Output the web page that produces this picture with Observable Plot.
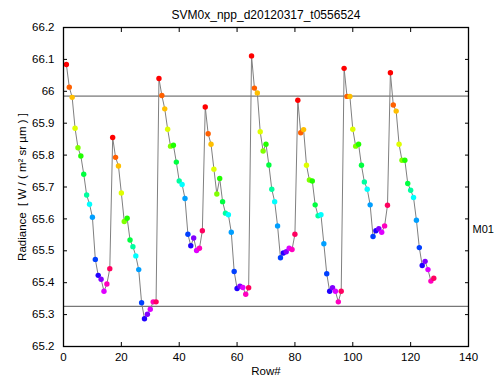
<!DOCTYPE html>
<html>
<head>
<meta charset="utf-8">
<script src="https://cdn.jsdelivr.net/npm/d3@7"></script>
<script src="https://cdn.jsdelivr.net/npm/@observablehq/plot@0.6"></script>
<style>
  html, body { margin: 0; padding: 0; background: #fff; }
  svg { display: block; }
</style>
</head>
<body>
<div id="chart"></div>
<script>
// ---- data ----
const chartTitle = "SVM0x_npp_d20120317_t0556524";
const bandLabel = "M01";
const xLabel = "Row#";
const yLabel = "Radiance  [ W / ( m\u00B2 sr \u00B5m ) ]";

// radiance per row (rows 1..128, 8 scans of 16 detectors)
const radiance = [
  66.084, 66.013, 65.981, 65.884, 65.823, 65.797, 65.740, 65.675, 65.646, 65.605, 65.473, 65.423, 65.411, 65.373, 65.396, 65.444,
  65.855, 65.793, 65.766, 65.681, 65.592, 65.602, 65.534, 65.513, 65.484, 65.441, 65.337, 65.287, 65.301, 65.317, 65.340, 65.340,
  66.040, 65.987, 65.945, 65.881, 65.828, 65.831, 65.778, 65.719, 65.708, 65.664, 65.552, 65.516, 65.540, 65.501, 65.508, 65.563,
  65.951, 65.867, 65.834, 65.756, 65.678, 65.727, 65.654, 65.618, 65.613, 65.558, 65.435, 65.382, 65.389, 65.385, 65.364, 65.384,
  66.111, 66.010, 65.995, 65.873, 65.813, 65.834, 65.769, 65.693, 65.654, 65.578, 65.478, 65.493, 65.497, 65.508, 65.504, 65.552,
  65.972, 65.870, 65.880, 65.768, 65.722, 65.719, 65.644, 65.610, 65.613, 65.522, 65.428, 65.373, 65.384, 65.373, 65.340, 65.373,
  66.072, 65.984, 65.984, 65.881, 65.828, 65.834, 65.768, 65.716, 65.693, 65.644, 65.545, 65.563, 65.569, 65.558, 65.578, 65.643,
  66.058, 65.957, 65.938, 65.834, 65.784, 65.784, 65.711, 65.690, 65.667, 65.596, 65.510, 65.454, 65.467, 65.441, 65.405, 65.414
];

// detector colours (hsv cycle over 16 detectors)
const detectorColors = [
  "#FF0000", "#FF6000", "#FFBF00", "#DFFF00", "#80FF00", "#20FF00", "#00FF40", "#00FF9F",
  "#00FFFF", "#009FFF", "#0040FF", "#2000FF", "#8000FF", "#DF00FF", "#FF00BF", "#FF0060"
];

// horizontal reference lines
const refLines = [65.985, 65.326];

// ticks
const xTicks = [0, 20, 40, 60, 80, 100, 120, 140];
const yTicks = [65.2, 65.3, 65.4, 65.5, 65.6, 65.7, 65.8, 65.9, 66.0, 66.1, 66.2];
const bandLabelY = 65.567;

// ---- build table ----
const data = radiance.map((v, i) => ({row: i + 1, value: v, color: detectorColors[i % detectorColors.length]}));
const fmtY = d => String(+d.toFixed(1));
const noText = () => "";

const chart = Plot.plot({
  width: 495,
  height: 378,
  marginLeft: 63,
  marginRight: 27,
  marginTop: 27,
  marginBottom: 32,
  style: {fontFamily: "'Liberation Sans', Arial, sans-serif", fontSize: "11.5px", background: "#fff", color: "#000"},
  x: {domain: [0, 140]},
  y: {domain: [65.2, 66.2]},
  color: {type: "identity"},
  marks: [
    Plot.ruleY(refLines, {stroke: "#555", strokeWidth: 1}),
    Plot.line(data, {x: "row", y: "value", stroke: "#808080", strokeWidth: 1}),
    Plot.dot(data, {x: "row", y: "value", r: 2.7, fill: "color", stroke: null}),
    Plot.frame({stroke: "#000", strokeWidth: 1.3}),
    // inward ticks on all four sides
    Plot.axisX(xTicks, {anchor: "bottom", tickSize: 4, dy: -4, tickFormat: noText, label: null}),
    Plot.axisX(xTicks, {anchor: "top", tickSize: 4, dy: 4, tickFormat: noText, label: null}),
    Plot.axisY(yTicks, {anchor: "left", tickSize: 4, dx: 4, tickFormat: noText, label: null}),
    Plot.axisY(yTicks, {anchor: "right", tickSize: 4, dx: -4, tickFormat: noText, label: null}),
    // tick labels and axis titles
    Plot.axisX(xTicks, {anchor: "bottom", tickSize: 0, tickPadding: 6, label: xLabel, labelAnchor: "center", labelOffset: 28, labelArrow: "none"}),
    Plot.axisY(yTicks, {anchor: "left", tickSize: 0, tickPadding: 9, tickFormat: fmtY, label: yLabel, labelAnchor: "center", labelOffset: 46, labelArrow: "none"}),
    Plot.text([chartTitle], {frameAnchor: "top", lineAnchor: "middle", dy: -12, fontSize: 12, text: d => d}),
    Plot.text([bandLabel], {x: () => 140, y: () => bandLabelY, dx: 4, textAnchor: "start", fontSize: 11, text: d => d})
  ]
});
document.getElementById("chart").appendChild(chart);
</script>
</body>
</html>
